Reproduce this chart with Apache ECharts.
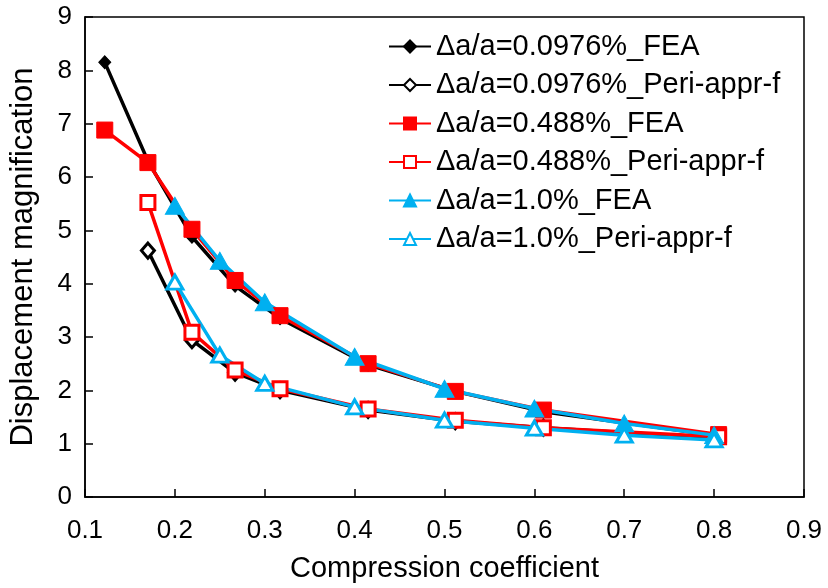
<!DOCTYPE html>
<html>
<head>
<meta charset="utf-8">
<script src="https://cdn.jsdelivr.net/npm/echarts@6/dist/echarts.min.js"></script>
<style>
  html, body { margin: 0; padding: 0; background: #fff; }
  #chart { width: 828px; height: 588px; }
</style>
</head>
<body>
<div id="chart"></div>
<script>
// compression coefficient values
var xFea = [0.122, 0.17, 0.219, 0.267, 0.317, 0.415, 0.512, 0.61, 0.805];
var xPeri = [0.17, 0.219, 0.267, 0.317, 0.415, 0.512, 0.61, 0.805];
var xBlue = [0.2, 0.25, 0.3, 0.4, 0.5, 0.6, 0.7, 0.8];

// displacement magnification
var blackFea = [8.15, 6.3, 4.88, 3.96, 3.35, 2.48, 1.98, 1.6, 1.15];
var blackPeri = [4.62, 2.94, 2.33, 2.0, 1.63, 1.42, 1.3, 1.1];
var redFea = [6.88, 6.27, 5.02, 4.06, 3.4, 2.5, 1.98, 1.63, 1.17];
var redPeri = [5.52, 3.09, 2.38, 2.03, 1.65, 1.44, 1.3, 1.13];
var blueFea = [5.46, 4.43, 3.65, 2.63, 2.03, 1.66, 1.38, 1.16];
var bluePeri = [4.03, 2.66, 2.13, 1.69, 1.44, 1.29, 1.16, 1.07];

var names = [
    'Δa/a=0.0976%_FEA',
    'Δa/a=0.0976%_Peri-appr-f',
    'Δa/a=0.488%_FEA',
    'Δa/a=0.488%_Peri-appr-f',
    'Δa/a=1.0%_FEA',
    'Δa/a=1.0%_Peri-appr-f'
];

var FONT = '"Liberation Sans", Arial, sans-serif';
var BLUE = '#00B0F0';

function pairs(xs, ys) {
    var out = [];
    for (var i = 0; i < xs.length; i++) {
        out.push([xs[i], ys[i]]);
    }
    return out;
}

// hollow = white fill with coloured border
function mkSeries(name, xs, ys, color, symbol, size, hollow) {
    return {
        name: name,
        type: 'line',
        data: pairs(xs, ys),
        symbol: symbol,
        symbolSize: size,
        showAllSymbol: true,
        lineStyle: { color: color, width: 3.5 },
        itemStyle: {
            color: hollow ? '#fff' : color,
            borderColor: color,
            borderWidth: hollow ? 3 : 1
        },
        emphasis: { disabled: true }
    };
}

var myChart = echarts.init(document.getElementById('chart'));

myChart.setOption({
    animation: false,
    backgroundColor: '#fff',
    textStyle: { fontFamily: FONT },
    grid: {
        left: 85,
        right: 24,
        top: 17,
        bottom: 89,
        show: true,
        borderColor: '#000',
        borderWidth: 1.5
    },
    legend: {
        orient: 'vertical',
        left: 388,
        top: 32,
        padding: 0,
        itemWidth: 42,
        itemHeight: 15,
        itemGap: 9.5,
        data: names,
        textStyle: { fontSize: 29, color: '#000', fontFamily: FONT }
    },
    xAxis: {
        type: 'value',
        min: 0.1,
        max: 0.9,
        interval: 0.1,
        name: 'Compression coefficient',
        nameLocation: 'middle',
        nameGap: 57,
        nameTextStyle: { fontSize: 29, color: '#000', fontFamily: FONT },
        axisLine: { show: true, lineStyle: { color: '#000', width: 1.5 } },
        axisTick: { show: true, inside: true, length: 8, lineStyle: { color: '#000', width: 1.5 } },
        axisLabel: {
            fontSize: 26,
            color: '#000',
            margin: 21,
            fontFamily: FONT,
            formatter: function (v) { return (Math.round(v * 10) / 10).toFixed(1); }
        },
        splitLine: { show: false }
    },
    yAxis: {
        type: 'value',
        min: 0,
        max: 9,
        interval: 1,
        name: 'Displacement magnification',
        nameLocation: 'middle',
        nameGap: 46,
        nameTextStyle: { fontSize: 31, color: '#000', fontFamily: FONT },
        axisLine: { show: true, lineStyle: { color: '#000', width: 1.5 } },
        axisTick: { show: true, inside: true, length: 8, lineStyle: { color: '#000', width: 1.5 } },
        axisLabel: { fontSize: 26, color: '#000', margin: 13, fontFamily: FONT },
        splitLine: { show: false }
    },
    series: [
        mkSeries(names[0], xFea, blackFea, '#000', 'diamond', [12, 13], false),
        mkSeries(names[1], xPeri, blackPeri, '#000', 'diamond', [13, 15], true),
        mkSeries(names[2], xFea, redFea, '#FF0000', 'rect', 16, false),
        mkSeries(names[3], xPeri, redPeri, '#FF0000', 'rect', 14, true),
        mkSeries(names[4], xBlue, blueFea, BLUE, 'triangle', [19, 17], false),
        mkSeries(names[5], xBlue, bluePeri, BLUE, 'triangle', [16, 14], true)
    ]
});
</script>
</body>
</html>
